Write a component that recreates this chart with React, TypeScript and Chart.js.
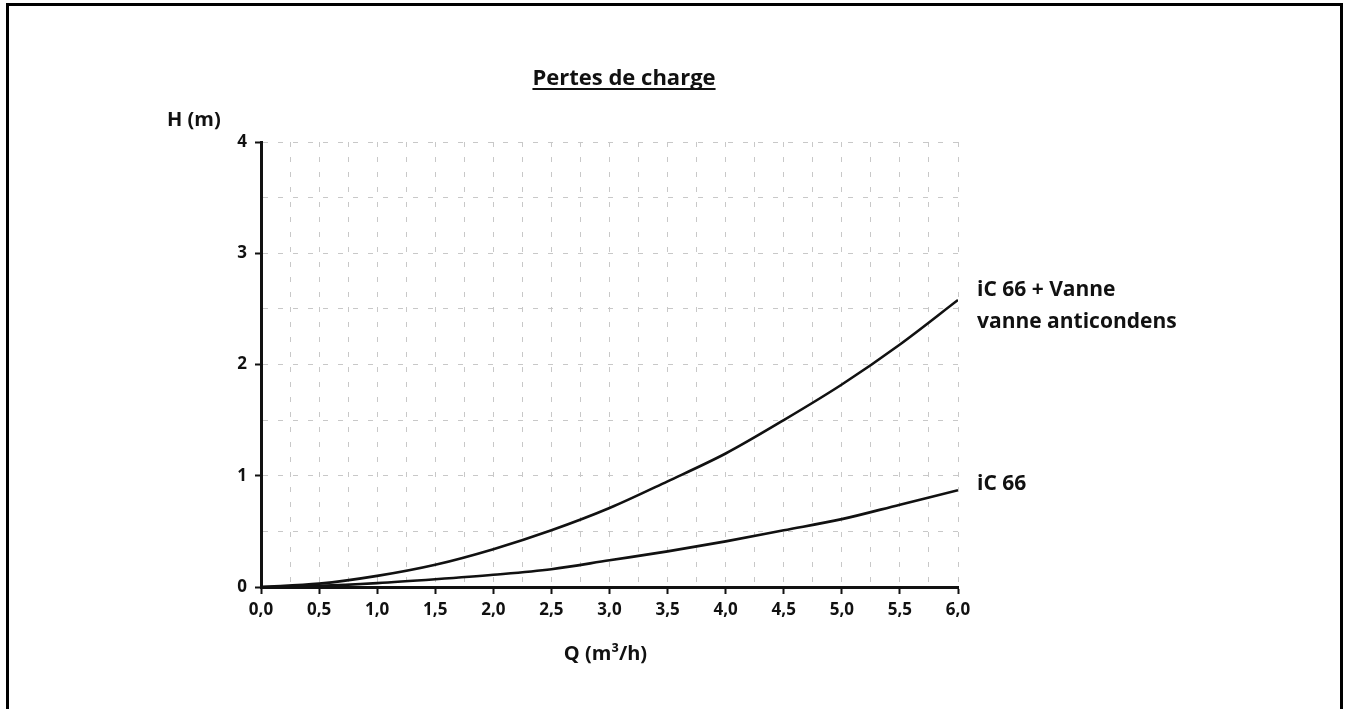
import React, { useEffect, useRef } from 'react';
import { Chart, registerables } from 'chart.js';

Chart.register(...registerables);

// ---- data ----
const flowQ = [0, 0.5, 1.0, 1.5, 2.0, 2.5, 3.0, 3.5, 4.0, 4.5, 5.0, 5.5, 6.0];
const headWithValve = [0, 0.03, 0.1, 0.2, 0.34, 0.51, 0.71, 0.95, 1.2, 1.5, 1.82, 2.18, 2.58];
const headIC66 = [0, 0.01, 0.035, 0.07, 0.11, 0.16, 0.24, 0.32, 0.41, 0.51, 0.61, 0.74, 0.87];

const xTickLabels = ['0,0', '0,5', '1,0', '1,5', '2,0', '2,5', '3,0', '3,5', '4,0', '4,5', '5,0', '5,5', '6,0'];
const yTickLabels = ['0', '1', '2', '3', '4'];

const titleText = 'Pertes de charge';
const yAxisTitle = 'H (m)';
const xAxisTitle = 'Q (m\u00B3/h)';
const upperLabelLines = ['iC 66 + Vanne', 'vanne anticondens'];
const lowerLabelLines = ['iC 66'];

const FONT = '"Open Sans", "Noto Sans", sans-serif';
const INK = '#111';
const GRID = '#c8c8c8';

const annotate = {
  id: 'annotate',
  afterDraw(chart: any) {
    const { ctx, chartArea, scales } = chart;
    const xs = scales.x;
    const ys = scales.y;
    ctx.save();
    ctx.fillStyle = INK;
    ctx.textBaseline = 'alphabetic';

    // title with underline
    ctx.font = `bold 22px ${FONT}`;
    ctx.textAlign = 'center';
    const tx = chartArea.left + 363;
    const ty = chartArea.top - 57;
    ctx.fillText(titleText, tx, ty);
    const tw = ctx.measureText(titleText).width;
    ctx.fillRect(tx - tw / 2, ty + 3, tw, 2);

    // axis titles
    ctx.font = `bold 20px ${FONT}`;
    ctx.textAlign = 'left';
    ctx.fillText(yAxisTitle, chartArea.left - 94, chartArea.top - 16);
    ctx.textAlign = 'center';
    ctx.fillText(xAxisTitle, (chartArea.left + chartArea.right) / 2 - 4, chartArea.bottom + 73);

    // curve labels
    ctx.font = `bold 21px ${FONT}`;
    ctx.textAlign = 'left';
    const last = flowQ.length - 1;
    const lx = xs.getPixelForValue(flowQ[last]) + 19;
    const uy = ys.getPixelForValue(headWithValve[last]) - 4;
    upperLabelLines.forEach((t, i) => ctx.fillText(t, lx, uy + i * 32));
    const ly = ys.getPixelForValue(headIC66[last]);
    lowerLabelLines.forEach((t, i) => ctx.fillText(t, lx, ly + i * 32));
    ctx.restore();
  },
};

export default function App() {
  const ref = useRef<HTMLCanvasElement>(null);

  useEffect(() => {
    if (!ref.current) return;
    const tickFont = { family: FONT, size: 17, weight: 'bold' as const };
    const chart = new Chart(ref.current, {
      type: 'line',
      data: {
        datasets: [
          {
            label: upperLabelLines.join(' '),
            data: flowQ.map((q, i) => ({ x: q, y: headWithValve[i] })),
            borderColor: INK,
            borderWidth: 2.6,
            pointRadius: 0,
            cubicInterpolationMode: 'monotone',
            fill: false,
          },
          {
            label: lowerLabelLines.join(' '),
            data: flowQ.map((q, i) => ({ x: q, y: headIC66[i] })),
            borderColor: INK,
            borderWidth: 2.6,
            pointRadius: 0,
            cubicInterpolationMode: 'monotone',
            fill: false,
          },
        ],
      },
      options: {
        responsive: false,
        devicePixelRatio: 1,
        animation: false,
        events: [],
        layout: { padding: { left: 201, top: 142, right: 389, bottom: 72 } },
        plugins: {
          legend: { display: false },
          tooltip: { enabled: false },
          title: { display: false },
        },
        scales: {
          x: {
            type: 'linear',
            min: 0,
            max: 6,
            afterFit: (s: any) => {
              s.height = 50;
            },
            border: { display: true, color: INK, width: 3, dash: [5, 10] },
            grid: {
              color: (c: any) => (c.tick && c.tick.value === 0 ? 'rgba(0,0,0,0)' : GRID),
              lineWidth: 1,
              drawTicks: true,
              tickLength: 7,
              tickWidth: 2,
              tickColor: (c: any) => {
                const v = c.tick ? c.tick.value * 2 : 0.5;
                return Math.abs(v - Math.round(v)) < 1e-9 ? INK : 'rgba(0,0,0,0)';
              },
            },
            ticks: {
              stepSize: 0.25,
              autoSkip: false,
              maxRotation: 0,
              minRotation: 0,
              padding: 6,
              color: INK,
              font: tickFont,
              callback: (value: any) => {
                const v = Number(value) * 2;
                const k = Math.round(v);
                return Math.abs(v - k) < 1e-9 ? xTickLabels[k] : '';
              },
            },
          },
          y: {
            type: 'linear',
            min: 0,
            max: 4,
            afterFit: (s: any) => {
              s.width = 60;
            },
            border: { display: true, color: INK, width: 3, dash: [5, 10] },
            grid: {
              color: (c: any) => (c.tick && c.tick.value === 0 ? 'rgba(0,0,0,0)' : GRID),
              lineWidth: 1,
              drawTicks: true,
              tickLength: 6,
              tickWidth: 2,
              tickColor: (c: any) => {
                const v = c.tick ? c.tick.value : 0.5;
                return Math.abs(v - Math.round(v)) < 1e-9 ? INK : 'rgba(0,0,0,0)';
              },
            },
            ticks: {
              stepSize: 0.5,
              autoSkip: false,
              padding: 8,
              color: INK,
              font: tickFont,
              callback: (value: any) => {
                const v = Number(value);
                return Number.isInteger(v) ? yTickLabels[v] : '';
              },
            },
          },
        },
      },
      plugins: [annotate],
    });
    return () => chart.destroy();
  }, []);

  return (
    <div style={{ position: 'fixed', inset: 0, overflow: 'hidden', background: '#fff' }}>
      <div
        style={{
          position: 'absolute',
          left: 6,
          top: 3,
          width: 1337,
          height: 800,
          border: '3px solid #000',
          boxSizing: 'border-box',
        }}
      />
      <canvas
        ref={ref}
        width={1347}
        height={709}
        style={{ position: 'absolute', left: 0, top: 0, width: 1347, height: 709 }}
      />
    </div>
  );
}
